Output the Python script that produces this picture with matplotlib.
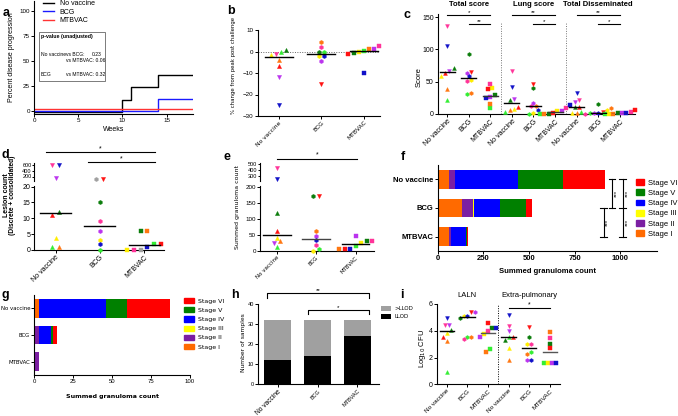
import numpy as np
import matplotlib
matplotlib.use("Agg")
import matplotlib.pyplot as plt
from matplotlib.lines import Line2D
from matplotlib.patches import Patch, Rectangle

plt.rcParams['font.family'] = ['Liberation Sans', 'DejaVu Sans']
plt.rcParams['axes.linewidth'] = 0.8

W, H = 678, 416
fig = plt.figure(figsize=(W / 100, H / 100), dpi=100)

# ------------------------------------------------------------------ data
groups = ["No vaccine", "BCG", "MTBVAC"]
stages = ["Stage I", "Stage II", "Stage III", "Stage IV", "Stage V", "Stage VI"]
# animal order within each group:
animals = ["lgreen", "dgreen", "yellow", "pink", "orange", "red", "violet", "blue"]

# a: disease progression (step curves)
weeks_nv = [0, 10, 11, 14, 18]
prog_nv = [0, 12.5, 25, 37.5, 37.5]
weeks_bcg = [0, 14, 18]
prog_bcg = [0, 12.5, 12.5]
weeks_mtb = [0, 18]
prog_mtb = [0, 0]
p_nv_bcg, p_nv_mtb, p_bcg_mtb = "0.23", "0.06", "0.32"

# b: % change from peak post challenge
b_nv = [0, 0.5, -1.7, -1, -3.8, -6.6, -12, -25]
b_bcg = [0, -0.3, -2, 2, 4.5, -15.3, -4.3, -2]
b_mtb = [0.3, -0.8, 0, 2.7, 1, -1.3, 1.2, -10]
b_mid = [-2.7, -1.1, 0.15]

# c: scores
c_cats = ["No vaccine", "BCG", "MTBVAC"] * 3
c_titles = ["Total score", "Lung score", "Total Disseminated"]
c_total_nv = [21.6, 70.6, 59, 136, 38, 63, 67, 105]
c_total_bcg = [31, 92.7, 52.5, 50.5, 32, 65, 64, 59]
c_total_mtb = [8.8, 29, 40, 46, 15, 39, 27, 25]
c_lung_nv = [2.6, 21.6, 8.2, 66, 6.2, 11.3, 23.7, 41]
c_lung_bcg = [0, 39.7, 2, 12.4, 12.4, 46, 17.5, 6.2]
c_lung_mtb = [0, 0.5, 4.6, 9.8, 0, 1, 5, 14]
c_dis_nv = [2.6, 10.3, 1, 21.6, 1, 11.3, 18, 33]
c_dis_bcg = [1, 15, 6.2, 0, 9.8, 2.6, 1, 1]
c_dis_mtb = [0, 1, 0, 2.6, 0, 6.2, 1, 1]
c_mid = [65, 55, 28, 16.5, 12.4, 2.6, 11.3, 1.8, 0.5]

# d: lesion count
d_nv = [1, 12.1, 3.9, 600, 1, 11, 160, 600]
d_bcg = [0, 15.2, 3.1, 9.1, 110, 110, 6, 2]
d_mtb = [2, 6.1, 0, 0, 6.1, 2, 0, 1]
d_mid = [11.6, 7.6, 1.5]

# e: summed granuloma count
e_nv = [12, 118, 42, 430, 31, 62, 25, 250]
e_bcg = [5, 174, 0, 20, 63, 174, 48, 36]
e_mtb = [17, 32, 24, 32, 5, 7, 48, 7]
e_mid = [51, 39, 21]

# f: granuloma stages (summed count)
f_I = [63, 131, 60]
f_II = [31, 64, 12]
f_III = [0, 3, 0]
f_IV = [345, 145, 81]
f_V = [245, 139, 5]
f_VI = [235, 33, 5]

# g: extra-pulmonary granuloma stages
g_I = [3.2, 0, 0]
g_II = [0, 3.2, 3.2]
g_III = [0, 0, 0]
g_IV = [42.6, 7.5, 0]
g_V = [13.8, 1.5, 0]
g_VI = [27.4, 2.1, 0]

# h: number of samples
h_llod = [12, 14, 24]
h_above = [20, 18, 8]

# i: Log10 CFU
i_laln_nv = [0.94, 4.05, 3.8, 4.43, 3.25, 3.55, 4.43, 4.92]
i_laln_bcg = [3.55, 4.92, 5.12, 3.38, 3.55, 5.37, 5.37, 5.12]
i_laln_mtb = [2.61, 4.18, 3.73, 3.98, 2.43, 4.6, 3.55, 4.18]
i_ext_nv = [3.55, 3.3, 2.69, 4.35, 1.81, 3.55, 4.0, 5.17]
i_ext_bcg = [2.39, 3.55, 2.98, 3.03, 2.26, 4.3, 1.81, 1.81]
i_ext_mtb = [1.61, 3.03, 1.61, 3.48, 3.88, 2.73, 1.61, 1.61]
i_mid = [4.0, 5.05, 3.85, 3.55, 2.73, 2.43]

# ------------------------------------------------------------------ styles
COL = {"lgreen": "#33ee33", "dgreen": "#0b7d0b", "yellow": "#ffee00",
       "pink": "#ff3399", "orange": "#ff7711", "red": "#ff1111",
       "violet": "#bb33ee", "blue": "#1010c8", "grey": "#a0a0a0"}
MK_NV = ["^", "^", "^", "v", "^", "^", "v", "v"]
MK_BCG = ["h", "h", "h", "h", "h", "v", "h", "h"]
MK_MTB = ["s"] * 8
STAGE_COL = ["#ff6a00", "#7b1fa2", "#ffff00", "#0000ff", "#008000", "#ff0000"]


def cols(override=None):
    c = [COL[a] for a in animals]
    if override:
        for k, v in override.items():
            c[animals.index(k)] = COL[v]
    return c


def ax_px(x0, y0, x1, y1):
    ax = fig.add_axes([x0 / W, 1 - y1 / H, (x1 - x0) / W, (y1 - y0) / H])
    ax.spines[['top', 'right']].set_visible(False)
    ax.tick_params(length=2, width=0.7, labelsize=4.5, pad=1)
    ax.patch.set_alpha(0)
    return ax


def ftext(x, y, s, **kw):
    fig.text(x / W, 1 - y / H, s, **kw)


def swarm_offsets(vals, thresh, dx):
    vals = np.asarray(vals, float)
    order = np.argsort(vals, kind='stable')
    offs = np.zeros(len(vals))
    clusters, cur = [], []
    for i in order:
        if cur and vals[i] - vals[cur[-1]] < thresh:
            cur.append(i)
        else:
            if cur:
                clusters.append(cur)
            cur = [i]
    if cur:
        clusters.append(cur)
    for c in clusters:
        n = len(c)
        for k, i in enumerate(c):
            offs[i] = (k - (n - 1) / 2) * dx
    return offs


def dots(ax, xc, vals, cl, mk, thresh, dx, ms=3.0, mask=None):
    vals = np.asarray(vals, float)
    idx = np.arange(len(vals)) if mask is None else np.where(mask)[0]
    offs = swarm_offsets(vals[idx], thresh, dx)
    for j, o in zip(idx, offs):
        ax.plot(xc + o, vals[j], ls='none', marker=mk[j], ms=ms, mfc=cl[j],
                mec=cl[j], mew=0.3, clip_on=False, zorder=3)


def midline(ax, xc, v, color='k', hw=0.33):
    ax.plot([xc - hw, xc + hw], [v, v], color=color, lw=1.0, zorder=4)


def sigbar(ax, x0, x1, yf, txt, fs=5, drop=0.0):
    tr = ax.get_xaxis_transform()
    if drop:
        ax.plot([x0, x0, x1, x1], [yf - drop, yf, yf, yf - drop], color='k',
                lw=0.8, transform=tr, clip_on=False)
    else:
        ax.plot([x0, x1], [yf, yf], color='k', lw=0.8, transform=tr, clip_on=False)
    ax.text((x0 + x1) / 2, yf, txt, ha='center', va='bottom', fontsize=fs,
            transform=tr)


def panel_letter(x, y, s):
    ftext(x, y, s, fontsize=9, fontweight='bold', va='center', ha='left')


# ------------------------------------------------------------------ a
ax = ax_px(34.3, 1, 193, 114)
ax.step(weeks_nv, np.array(prog_nv) - 1.3, where='post', color='k', lw=1.0)
ax.step(weeks_bcg, np.array(prog_bcg), where='post', color='#1a1aff', lw=1.0)
ax.step(weeks_mtb, np.array(prog_mtb) + 2, where='post', color='#ff3333', lw=1.0)
ax.set_xlim(0, 18)
ax.set_ylim(-3, 110)
ax.set_xticks([0, 5, 10, 15])
ax.set_yticks([0, 25, 50, 75, 100])
ax.set_xlabel("Weeks", fontsize=5, labelpad=2)
ax.set_ylabel("Percent disease progression", fontsize=5, labelpad=3)
ax.legend(handles=[Line2D([], [], color=c, lw=1.0) for c in ['k', '#1a1aff', '#ff3333']],
          labels=groups, loc='upper left', bbox_to_anchor=(43 / W, 1 - 0 / H),
          bbox_transform=fig.transFigure, frameon=False, fontsize=5,
          handlelength=1.6, labelspacing=0.25, borderpad=0, handletextpad=0.8,
          borderaxespad=0)
ax.add_patch(Rectangle((0.5, 30), 7.5, 49, fill=False, lw=0.6, ec='#666666'))
ax.text(0.75, 75, "p-value (unadjusted)", fontsize=3.8, fontweight='bold', va='center')
ax.text(0.75, 57, "No vaccine", fontsize=3.6, va='center')
ax.text(3.6, 57, "vs BCG:", fontsize=3.6, va='center')
ax.text(6.55, 57, p_nv_bcg, fontsize=3.6, va='center')
ax.text(3.6, 51, "vs MTBVAC: " + p_nv_mtb, fontsize=3.6, va='center')
ax.text(0.75, 36, "BCG", fontsize=3.6, va='center')
ax.text(3.6, 36, "vs MTBVAC: " + p_bcg_mtb, fontsize=3.6, va='center')
panel_letter(3, 13, "a")

# ------------------------------------------------------------------ b
ax = ax_px(257.7, 30, 380, 116)
ax.axhline(0, ls=(0, (1, 1.5)), color='#666666', lw=0.7, zorder=1)
for k, (vals, mk) in enumerate([(b_nv, MK_NV), (b_bcg, MK_BCG), (b_mtb, MK_MTB)]):
    dots(ax, k, vals, cols(), mk, 1.6, 0.12)
    midline(ax, k, b_mid[k])
ax.set_xlim(-0.49, 2.38)
ax.set_ylim(-30, 10)
ax.set_yticks([-30, -20, -10, 0, 10])
ax.set_xticks([0, 1, 2])
ax.set_xticklabels(groups, rotation=45, ha='right', rotation_mode='anchor',
                   fontsize=4.3, family='DejaVu Sans')
ftext(233, 66, "% change from peak post challenge", fontsize=3.9, rotation=90,
      ha='center', va='center', family='DejaVu Sans')
panel_letter(227, 11, "b")

# ------------------------------------------------------------------ c
ax = ax_px(438, 13.8, 635, 114)
c_sets = [(c_total_nv, MK_NV), (c_total_bcg, MK_BCG), (c_total_mtb, MK_MTB),
          (c_lung_nv, MK_NV), (c_lung_bcg, MK_BCG), (c_lung_mtb, MK_MTB),
          (c_dis_nv, MK_NV), (c_dis_bcg, MK_BCG), (c_dis_mtb, MK_MTB)]
for k, (vals, mk) in enumerate(c_sets):
    dots(ax, k, vals, cols(), mk, 5.0, 0.2, ms=2.8)
    midline(ax, k, c_mid[k], color='#333333' if k % 3 == 2 else 'k', hw=0.35)
for xd in [2.5, 5.5]:
    ax.axvline(xd, ymin=0, ymax=0.91, ls=(0, (1, 1.5)), color='#777777', lw=0.7)
ax.set_xlim(-0.42, 8.7)
ax.set_ylim(0, 155)
ax.set_yticks([0, 50, 100, 150])
ax.tick_params(axis='y', labelsize=5)
ax.set_xticks(range(9))
ax.set_xticklabels(c_cats, rotation=45, ha='right', rotation_mode='anchor', fontsize=5)
for g in range(3):
    sigbar(ax, 3 * g, 3 * g + 2, 0.99, "*" if g == 0 else "**", fs=4.5)
    sigbar(ax, 3 * g + 1, 3 * g + 2, 0.90, "**" if g == 0 else "*", fs=4.5)
    ax.text(3 * g + 1, 1.09, c_titles[g], transform=ax.get_xaxis_transform(),
            ha='center', va='center', fontsize=5.5, fontweight='bold')
ftext(419, 77, "Score", fontsize=5.5, rotation=90, ha='center', va='center')
panel_letter(403, 15, "c")

# ------------------------------------------------------------------ d
axl = ax_px(34.3, 186, 164, 250)
axu = ax_px(34.3, 163, 164, 181)
axu.spines['bottom'].set_visible(False)
axu.tick_params(axis='x', bottom=False, labelbottom=False)
d_brk = 20
d_sets = [(d_nv, MK_NV, cols()), (d_bcg, MK_BCG, cols({"orange": "grey"})),
          (d_mtb, MK_MTB, cols({"violet": "grey"}))]
for k, (vals, mk, cl) in enumerate(d_sets):
    v = np.asarray(vals, float)
    dots(axl, k, v, cl, mk, 1.1, 0.15, mask=v <= d_brk)
    dots(axu, k, v, cl, mk, 120, 0.15, mask=v > d_brk)
    midline(axl, k, d_mid[k], hw=0.35)
for a_ in (axl, axu):
    a_.set_xlim(-0.48, 2.45)
axl.set_ylim(0, 20.2)
axu.set_ylim(50, 650)
axl.set_yticks([0, 5, 10, 15, 20])
axu.set_yticks([200, 400, 600])
axu.tick_params(axis='y', labelsize=4, pad=0.5, length=1.5)
axl.tick_params(axis='y', labelsize=5)
axl.set_xticks([0, 1, 2])
axl.set_xticklabels(groups, rotation=45, ha='right', rotation_mode='anchor', fontsize=5)
sigbar(axu, -0.22, 2.24, 1.61, "*", fs=5)
sigbar(axu, 0.74, 2.24, 1.03, "*", fs=5)
ftext(6.5, 195, "Lesion count", fontsize=5, fontweight='bold', rotation=90,
      ha='center', va='center')
ftext(12.5, 195, "(Discrete + consolidated)", fontsize=4.8, fontweight='bold',
      rotation=90, ha='center', va='center')
panel_letter(2, 155, "d")

# ------------------------------------------------------------------ e
axl = ax_px(260, 186, 374, 251)
axu = ax_px(260, 163, 374, 181)
axu.spines['bottom'].set_visible(False)
axu.tick_params(axis='x', bottom=False, labelbottom=False)
e_brk = 205
for k, (vals, mk) in enumerate([(e_nv, MK_NV), (e_bcg, MK_BCG), (e_mtb, MK_MTB)]):
    v = np.asarray(vals, float)
    dots(axl, k, v, cols(), mk, 11, 0.14, mask=v <= e_brk)
    dots(axu, k, v, cols(), mk, 50, 0.14, mask=v > e_brk)
    midline(axl, k, e_mid[k], color='#444444' if k == 1 else 'k', hw=0.35)
for a_ in (axl, axu):
    a_.set_xlim(-0.43, 2.47)
axl.set_ylim(0, 204)
axu.set_ylim(220, 520)
axl.set_yticks([0, 50, 100, 150, 200])
axu.set_yticks([300, 400, 500])
axu.tick_params(axis='y', labelsize=4, pad=0.5, length=1.5)
axl.set_xticks([0, 1, 2])
axl.set_xticklabels(groups, rotation=45, ha='right', rotation_mode='anchor',
                    fontsize=4, family='DejaVu Sans')
sigbar(axu, 0.0, 2.05, 1.24, "*", fs=5)
ftext(238, 207, "Summed granuloma count", fontsize=4.5, rotation=90,
      ha='center', va='center', family='DejaVu Sans')
panel_letter(224, 157, "e")

# ------------------------------------------------------------------ f
ax = ax_px(437.8, 165, 656.7, 251)
left = np.zeros(3)
for vals, c in zip([f_I, f_II, f_III, f_IV, f_V, f_VI], STAGE_COL):
    ax.barh(range(3), vals, left=left, height=0.66, color=c, edgecolor='none')
    left += np.asarray(vals, float)
ax.set_ylim(2.5, -0.5)
ax.set_xlim(0, 1200)
ax.set_xticks([0, 250, 500, 750, 1000])
ax.set_yticks([0, 1, 2])
ax.set_yticklabels(groups, fontsize=5.5, fontweight='bold')
ax.tick_params(axis='x', labelsize=5.5)
for t in ax.get_xticklabels():
    t.set_fontweight('bold')
ax.set_xlabel("Summed granuloma count", fontsize=5.5, fontweight='bold', labelpad=4)
cap = 18
for xb, y0, y1, mids in [(955, 0, 1, []), (909, 1, 2, []), (1014, 0, 2, [1])]:
    ax.plot([xb, xb], [y0, y1], color='k', lw=0.8)
    for yy in [y0, y1] + mids:
        ax.plot([xb - cap, xb + cap], [yy, yy], color='k', lw=0.8)
for xs, ys in [(978, 0.5), (930, 1.5), (1038, 0.5), (1038, 1.5)]:
    ax.text(xs, ys, "***", rotation=90, fontsize=4.5, ha='center', va='center')
ax.legend(handles=[Patch(color=c) for c in STAGE_COL[::-1]], labels=stages[::-1],
          loc='upper left', bbox_to_anchor=(636 / W, 1 - 179 / H),
          bbox_transform=fig.transFigure, frameon=False, fontsize=5.5,
          handlelength=1.1, handleheight=0.8, labelspacing=0.35, borderpad=0,
          handletextpad=0.5, borderaxespad=0)
panel_letter(401, 157, "f")

# ------------------------------------------------------------------ g
ax = ax_px(34.3, 295, 190, 375)
left = np.zeros(3)
for vals, c in zip([g_I, g_II, g_III, g_IV, g_V, g_VI], STAGE_COL):
    ax.barh(range(3), vals, left=left, height=0.7, color=c, edgecolor='none')
    left += np.asarray(vals, float)
ax.set_ylim(2.5, -0.5)
ax.set_xlim(0, 100)
ax.set_xticks([0, 25, 50, 75, 100])
ax.set_yticks([0, 1, 2])
ax.set_yticklabels(groups, fontsize=3.9, family='DejaVu Sans')
ax.tick_params(axis='x', labelsize=4.3)
ax.set_xlabel("Summed granuloma count", fontsize=4.5, fontweight='bold',
              labelpad=7, family='DejaVu Sans')
ax.legend(handles=[Patch(color=c) for c in STAGE_COL[::-1]], labels=stages[::-1],
          loc='upper left', bbox_to_anchor=(184 / W, 1 - 298 / H),
          bbox_transform=fig.transFigure, frameon=False,
          prop={'size': 4.5, 'family': 'DejaVu Sans'},
          handlelength=1.6, handleheight=0.9, labelspacing=0.55, borderpad=0,
          handletextpad=0.6, borderaxespad=0)
panel_letter(2, 295, "g")

# ------------------------------------------------------------------ h
ax = ax_px(258.3, 304.3, 379.3, 384.3)
ax.bar(range(3), h_llod, width=0.67, color='black', label="LLOD")
ax.bar(range(3), h_above, bottom=h_llod, width=0.67, color='#a0a0a0', label=">LLOD")
ax.set_xlim(-0.485, 2.55)
ax.set_ylim(0, 40)
ax.set_yticks([0, 10, 20, 30, 40])
ax.tick_params(axis='y', labelsize=4)
ax.set_xticks([0, 1, 2])
ax.set_xticklabels(groups, rotation=45, ha='right', rotation_mode='anchor')
for t, fs in zip(ax.get_xticklabels(), [4.8, 4, 4]):
    t.set_fontsize(fs)
sigbar(ax, -0.275, 2.29, 1.145, "**", fs=4.5, drop=0.06)
sigbar(ax, 0.75, 2.29, 0.93, "*", fs=4.5, drop=0.05)
hh, ll = ax.get_legend_handles_labels()
ax.legend(hh[::-1], ll[::-1], loc='upper left', bbox_to_anchor=(381 / W, 1 - 306 / H),
          bbox_transform=fig.transFigure, frameon=False,
          prop={'size': 4, 'family': 'DejaVu Sans'}, handlelength=1.8,
          handleheight=0.9, labelspacing=0.5, borderpad=0, handletextpad=0.6,
          borderaxespad=0)
ftext(243.5, 343, "Number of samples", fontsize=4.3, rotation=90, ha='center',
      va='center', family='DejaVu Sans')
panel_letter(231, 295, "h")

# ------------------------------------------------------------------ i
ax = ax_px(436.7, 304, 560, 384.3)
i_sets = [(i_laln_nv, MK_NV), (i_laln_bcg, MK_BCG), (i_laln_mtb, MK_MTB),
          (i_ext_nv, MK_NV), (i_ext_bcg, MK_BCG), (i_ext_mtb, MK_MTB)]
for k, (vals, mk) in enumerate(i_sets):
    dots(ax, k, vals, cols(), mk, 0.26, 0.19, ms=2.8)
    midline(ax, k, i_mid[k], color='#555555' if k % 3 == 2 else 'k', hw=0.35)
ax.axvline(2.5, ls=(0, (1, 1.5)), color='k', lw=0.7)
ax.set_xlim(-0.49, 5.49)
ax.set_ylim(0, 6)
ax.set_yticks([0, 2, 4, 6])
ax.tick_params(axis='y', labelsize=5)
ax.set_xticks(range(6))
ax.set_xticklabels(groups * 2, rotation=45, ha='right', rotation_mode='anchor',
                   fontsize=4.6)
sigbar(ax, 3, 5, 0.946, "*", fs=5)
ax.text(1, 1.11, "LALN", transform=ax.get_xaxis_transform(), ha='center',
        va='center', fontsize=5.5)
ax.text(4, 1.11, "Extra-pulmonary", transform=ax.get_xaxis_transform(),
        ha='center', va='center', fontsize=5.5)
ftext(423, 348, "Log$_{10}$ CFU", fontsize=5.5, rotation=90, ha='center', va='center')
panel_letter(400, 295, "i")

fig.savefig("out.png", dpi=100)
